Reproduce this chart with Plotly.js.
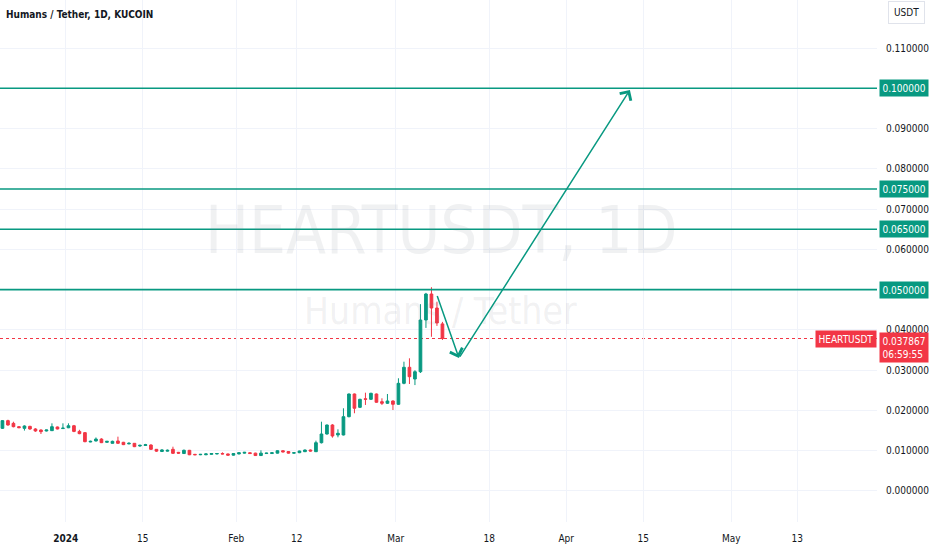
<!DOCTYPE html>
<html>
<head>
<meta charset="utf-8">
<script src="https://cdn.plot.ly/plotly-3.0.1.min.js"></script>
<style>html,body{margin:0;padding:0;background:#fff;}#chart{width:932px;height:550px;}</style>
</head>
<body>
<div id="chart"></div>
<script>
// ---- data ----
const firstCandleDay = '2023-12-20';
const opens = [0.01556,0.01747,0.0168,0.01597,0.01556,0.01605,0.0154,0.01515,0.0149,0.01498,0.0159,0.0155,
  0.0157,0.0162,0.0148,0.01449,0.01217,0.01242,0.0129,0.01209,0.01184,0.01242,0.01209,0.0117,0.01184,0.01117,0.0113,
  0.01142,0.01035,0.0098,0.0099,0.01035,0.0096,0.0093,0.0101,0.0091,0.0090,0.0090,0.0091,0.0092,0.0093,0.0092,0.0089,
  0.0092,0.0094,0.0095,0.0094,0.0088,0.0093,0.0093,0.0094,0.0100,0.0098,0.0094,0.00951,0.00976,0.01018,
  0.00976,0.01199,0.01415,0.01639,0.01391,0.01391,0.01845,0.02409,0.02078,0.0229,0.02277,0.02409,0.02218,0.02178,0.02235,
  0.02153,0.02674,0.03072,0.02781,0.02962,0.04246,0.04892,0.04544,0.0415];
const highs = [0.0176,0.0177,0.0172,0.0161,0.0163,0.0162,0.0156,0.0153,0.0152,0.0168,0.0160,0.0168,
  0.0168,0.0164,0.0152,0.0146,0.0125,0.0133,0.0131,0.0124,0.0125,0.01349,0.0122,0.0121,0.0119,0.0115,0.0117,
  0.0116,0.0104,0.0104,0.0103,0.0110,0.0097,0.0103,0.0102,0.0092,0.0092,0.0093,0.0094,0.0094,0.0096,0.0093,0.0094,
  0.0096,0.0097,0.0096,0.0095,0.0101,0.0095,0.0096,0.0101,0.0101,0.0099,0.0096,0.0100,0.0103,0.0103,
  0.0125,0.01721,0.0165,0.0166,0.01532,0.02054,0.0242,0.0242,0.0229,0.02441,0.0244,0.0242,0.02302,0.02409,0.0225,
  0.02799,0.03211,0.03295,0.0300,0.0464,0.0492,0.0506,0.0470,0.0420];
const lows = [0.0154,0.0162,0.0158,0.0156,0.0150,0.0152,0.0147,0.01415,0.0148,0.0149,0.0153,0.0154,
  0.0156,0.0146,0.0141,0.0121,0.0121,0.0123,0.0119,0.0120,0.0118,0.0117,0.0114,0.0116,0.0109,0.0110,0.0112,
  0.0102,0.0097,0.0097,0.0098,0.0092,0.0092,0.0092,0.0089,0.0089,0.0089,0.0089,0.0090,0.0091,0.0091,0.0088,0.0088,
  0.0091,0.0093,0.0092,0.0087,0.0087,0.0092,0.0092,0.0093,0.0096,0.0093,0.0093,0.0094,0.0097,0.0098,
  0.0097,0.0118,0.0140,0.01324,0.01333,0.0138,0.0183,0.0193,0.0206,0.02136,0.0226,0.0219,0.02136,0.0216,0.02011,
  0.0214,0.0265,0.02657,0.0263,0.0293,0.0405,0.0383,0.0410,0.0375];
const closes = [0.01747,0.01639,0.01597,0.01573,0.01614,0.0154,0.0149,0.01473,0.01515,0.01597,0.0154,0.0156,
  0.0162,0.0148,0.01424,0.01225,0.01233,0.0129,0.0120,0.01233,0.01233,0.01184,0.01151,0.01184,0.01101,0.01134,0.0115,
  0.01035,0.0099,0.0102,0.0101,0.00935,0.0094,0.0101,0.0090,0.0090,0.0091,0.0092,0.0093,0.0093,0.0092,0.0089,0.0093,
  0.0095,0.0096,0.0093,0.0088,0.0094,0.0094,0.0095,0.0100,0.0097,0.0094,0.0095,0.00993,0.01018,0.00993,
  0.01199,0.01415,0.01639,0.01366,0.01433,0.01845,0.02409,0.02054,0.02277,0.02277,0.02426,0.02203,0.02178,0.02235,0.02153,
  0.02674,0.03072,0.02838,0.02962,0.04246,0.04892,0.04544,0.04172,0.037867];

const levelValues = [0.100000, 0.075000, 0.065000, 0.050000];
const lastPrice = 0.037867;
const countdown = '06:59:55';
const symbol = 'HEARTUSDT';
const arrowDates = ['2024-03-08 11:00', '2024-03-12 12:00', '2024-04-12 14:00'];
const arrowValues = [0.0488, 0.0330, 0.0996];

const tickDates = ['2024-01-01','2024-01-15','2024-02-01','2024-02-12','2024-03-01','2024-03-18','2024-04-01','2024-04-15','2024-05-01','2024-05-13'];
const tickTexts = ['<b>2024</b>','15','Feb','12','Mar','18','Apr','15','May','13'];
// 0.10 and 0.05 are hidden behind the level labels in the reference
const priceTicks = [0,0.01,0.02,0.03,0.04,0.06,0.07,0.08,0.09,0.11];

// ---- build ----
const GREEN = '#089981', RED = '#f23645';
const start = new Date(firstCandleDay + 'T12:00:00Z');
const dates = opens.map((_, i) => {
  const d = new Date(start.getTime() + i * 86400000);
  return d.toISOString().slice(0, 10) + ' 12:00';
});

const FONT = '"Liberation Sans Narrow", "DejaVu Sans Condensed", Arial, sans-serif';
const WM = 'rgba(120,123,134,0.11)';

const trace = {
  type: 'candlestick', x: dates, open: opens, high: highs, low: lows, close: closes,
  increasing: {line: {color: GREEN, width: 1}, fillcolor: GREEN},
  decreasing: {line: {color: RED, width: 1}, fillcolor: RED},
  hoverinfo: 'skip', showlegend: false
};

const shapes = levelValues.map(v => ({
  type: 'line', xref: 'paper', x0: 0, x1: 1, yref: 'y', y0: v, y1: v,
  line: {color: GREEN, width: 1.6}
}));
shapes.push({type: 'line', xref: 'paper', x0: 0, x1: 1, yref: 'y', y0: lastPrice, y1: lastPrice,
  line: {color: RED, width: 1, dash: 'dot'}, layer: 'below'});

const annotations = [];
// watermark
annotations.push({xref: 'paper', yref: 'paper', x: 0.503, y: 0.559, text: 'HEARTUSDT, 1D', showarrow: false,
  font: {family: FONT, size: 65, color: WM}, xanchor: 'center', yanchor: 'middle'});
annotations.push({xref: 'paper', yref: 'paper', x: 0.502, y: 0.404, text: 'Humans / Tether', showarrow: false,
  font: {family: FONT, size: 37, color: WM}, xanchor: 'center', yanchor: 'middle'});
// level labels
levelValues.forEach(v => annotations.push({
  xref: 'paper', yref: 'y', x: 1, y: v, xanchor: 'left', yanchor: 'middle', xshift: 2,
  text: v.toFixed(6), showarrow: false, bgcolor: GREEN, borderpad: 2.5,
  font: {family: FONT, size: 10, color: '#ffffff'}
}));
// last price labels
annotations.push({xref: 'paper', yref: 'y', x: 1, y: lastPrice, xanchor: 'left', yanchor: 'top', xshift: 2, yshift: 7,
  text: lastPrice.toFixed(6) + '<br>' + countdown, showarrow: false, bgcolor: RED, borderpad: 2.5, align: 'left',
  font: {family: FONT, size: 10, color: '#ffffff'}});
annotations.push({xref: 'paper', yref: 'y', x: 1, y: lastPrice, xanchor: 'right', yanchor: 'middle',
  text: symbol, showarrow: false, bgcolor: RED, borderpad: 2.5,
  font: {family: FONT, size: 10, color: '#ffffff'}});
// USDT button
annotations.push({xref: 'paper', yref: 'paper', x: 1.0342, y: 0.976, xanchor: 'center', yanchor: 'middle',
  text: 'USDT', showarrow: false, bgcolor: '#ffffff', bordercolor: '#e0e3eb', borderwidth: 1, borderpad: 5,
  font: {family: FONT, size: 10, color: '#131722'}});
// arrows
for (let i = 0; i < arrowDates.length - 1; i++) {
  annotations.push({xref: 'x', yref: 'y', axref: 'x', ayref: 'y',
    x: arrowDates[i + 1], y: arrowValues[i + 1], ax: arrowDates[i], ay: arrowValues[i],
    text: '', showarrow: true, arrowhead: 4, arrowsize: 1.7, arrowwidth: 1.5, arrowcolor: GREEN});
}

const layout = {
  width: 932, height: 550, autosize: false,
  margin: {l: 0, r: 55, t: 0, b: 28, pad: 0},
  paper_bgcolor: '#ffffff', plot_bgcolor: '#ffffff',
  showlegend: false,
  title: {text: 'Humans / Tether, 1D, KUCOIN', x: 0.0064, xanchor: 'left', y: 0.9745, yanchor: 'middle',
    font: {family: FONT, size: 10, color: '#131722', weight: 'bold'}},
  xaxis: {
    type: 'date', range: ['2023-12-20 01:19:12', '2024-05-27 12:14:00'],
    tickvals: tickDates, ticktext: tickTexts, tickmode: 'array',
    showgrid: true, gridcolor: '#f0f3fa', gridwidth: 1, zeroline: false, showline: false,
    ticks: '', ticklabelstandoff: 9, tickfont: {family: FONT, size: 10, color: '#131722'},
    rangeslider: {visible: false}, fixedrange: true
  },
  yaxis: {
    side: 'right', range: [-0.0077, 0.12193], tickvals: priceTicks, tickformat: '.6f',
    showgrid: true, gridcolor: '#f0f3fa', gridwidth: 1, zeroline: false, showline: false,
    ticks: '', ticklabelstandoff: 8, tickfont: {family: FONT, size: 10, color: '#131722'}, fixedrange: true
  },
  shapes: shapes, annotations: annotations
};

Plotly.newPlot('chart', [trace], layout, {displayModeBar: false, staticPlot: true});
</script>
</body>
</html>
